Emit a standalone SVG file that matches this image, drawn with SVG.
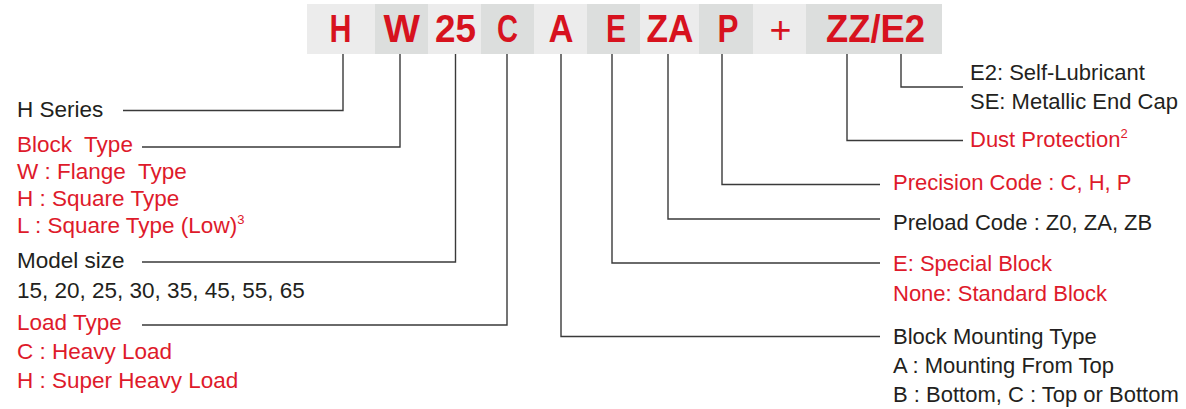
<svg xmlns="http://www.w3.org/2000/svg" width="1186" height="409" viewBox="0 0 1186 409">
<style>
.lt{fill:#ececec}
.dk{fill:#dcdedd}
.code{font-family:"Liberation Sans",Arial,sans-serif;font-weight:bold;font-size:38px;fill:#d7121e}
.plus{font-family:"Liberation Sans",Arial,sans-serif;font-size:38px;fill:#d7121e}
.t{font-family:"Liberation Sans",Arial,sans-serif;font-size:22px;fill:#231f20}
.l{font-size:22.5px}
.r{fill:#de1a2b}
.sup{font-size:13px}
.conn{fill:none;stroke:#3a3a3a;stroke-width:1.4}
</style>
<rect width="1186" height="409" fill="#ffffff"/>
<g id="code-bar">
  <g id="cell-H"><rect class="lt" x="307" y="4" width="68" height="50"/><text class="code" x="329.5" y="42" textLength="22" lengthAdjust="spacingAndGlyphs">H</text></g>
  <g id="cell-W"><rect class="dk" x="375" y="4" width="53" height="50"/><text class="code" x="383.5" y="42" textLength="36.5" lengthAdjust="spacingAndGlyphs">W</text></g>
  <g id="cell-25"><rect class="lt" x="428" y="4" width="53" height="50"/><text class="code" x="435" y="42" textLength="41" lengthAdjust="spacingAndGlyphs">25</text></g>
  <g id="cell-C"><rect class="dk" x="481" y="4" width="53" height="50"/><text class="code" x="497" y="42" textLength="21" lengthAdjust="spacingAndGlyphs">C</text></g>
  <g id="cell-A"><rect class="lt" x="534" y="4" width="53" height="50"/><text class="code" x="548.5" y="42" textLength="25" lengthAdjust="spacingAndGlyphs">A</text></g>
  <g id="cell-E"><rect class="dk" x="587" y="4" width="53" height="50"/><text class="code" x="606" y="42" textLength="20" lengthAdjust="spacingAndGlyphs">E</text></g>
  <g id="cell-ZA"><rect class="lt" x="640" y="4" width="59" height="50"/><text class="code" x="646.5" y="42" textLength="47" lengthAdjust="spacingAndGlyphs">ZA</text></g>
  <g id="cell-P"><rect class="dk" x="699" y="4" width="54" height="50"/><text class="code" x="717.5" y="42" textLength="21" lengthAdjust="spacingAndGlyphs">P</text></g>
  <g id="cell-plus"><rect class="lt" x="753" y="4" width="53" height="50"/><text class="plus" x="769.5" y="43" textLength="22" lengthAdjust="spacingAndGlyphs">+</text></g>
  <g id="cell-ZZE2"><rect class="dk" x="806" y="4" width="136" height="50"/><text class="code" x="826" y="42" textLength="99" lengthAdjust="spacingAndGlyphs">ZZ/E2</text></g>
</g>
<g id="connectors">
  <path class="conn" d="M343 54V110.5H123"/>
  <path class="conn" d="M400 54V147H142"/>
  <path class="conn" d="M455.5 54V262H142"/>
  <path class="conn" d="M507 54V325H142"/>
  <path class="conn" d="M561 54V336.5H880"/>
  <path class="conn" d="M612 54V263H880"/>
  <path class="conn" d="M668 54V219H880"/>
  <path class="conn" d="M722 54V184.5H880"/>
  <path class="conn" d="M847 54V140.5H963"/>
  <path class="conn" d="M901 54V87H963"/>
</g>
<g id="label-series"><text class="t l" x="17" y="117">H Series</text></g>
<g id="label-block-type">
  <text class="t l r" x="17" y="152" xml:space="preserve">Block  Type</text>
  <text class="t l r" x="17" y="179" xml:space="preserve">W : Flange  Type</text>
  <text class="t l r" x="17" y="206">H : Square Type</text>
  <text class="t l r" x="17" y="233">L : Square Type (Low)<tspan class="sup" dy="-9">3</tspan></text>
</g>
<g id="label-model-size">
  <text class="t l" x="17" y="268">Model size</text>
  <text class="t l" x="17" y="298">15, 20, 25, 30, 35, 45, 55, 65</text>
</g>
<g id="label-load-type">
  <text class="t l r" x="17" y="330">Load Type</text>
  <text class="t l r" x="17" y="359">C : Heavy Load</text>
  <text class="t l r" x="17" y="388">H : Super Heavy Load</text>
</g>
<g id="label-e2">
  <text class="t" x="970" y="80">E2: Self-Lubricant</text>
  <text class="t" x="970" y="109">SE: Metallic End Cap</text>
</g>
<g id="label-dust"><text class="t r" x="970" y="147">Dust Protection<tspan class="sup" dy="-9">2</tspan></text></g>
<g id="label-precision"><text class="t r" x="893" y="190">Precision Code : C, H, P</text></g>
<g id="label-preload"><text class="t" x="893" y="230">Preload Code : Z0, ZA, ZB</text></g>
<g id="label-special">
  <text class="t r" x="893" y="271">E: Special Block</text>
  <text class="t r" x="893" y="301">None: Standard Block</text>
</g>
<g id="label-mounting">
  <text class="t" x="893" y="344">Block Mounting Type</text>
  <text class="t" x="893" y="373">A : Mounting From Top</text>
  <text class="t" x="893" y="402">B : Bottom, C : Top or Bottom</text>
</g>
</svg>
